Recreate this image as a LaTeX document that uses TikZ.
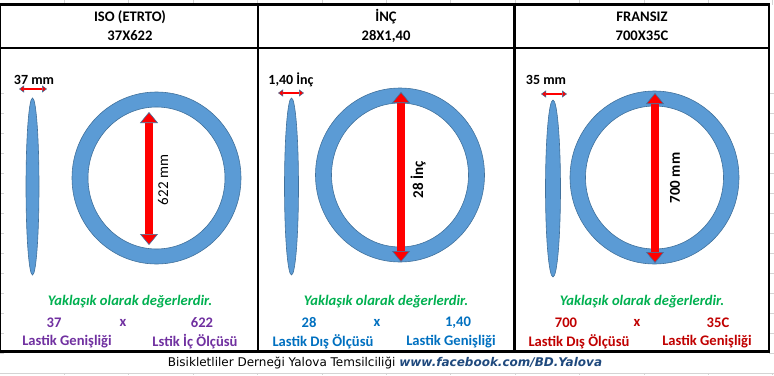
\documentclass[tikz,border=0pt]{standalone}
\usepackage{fontspec}
\setmainfont{Carlito}
\newfontfamily\piedfont{DejaVu Sans}
\usetikzlibrary{arrows.meta}
\definecolor{bleupneu}{RGB}{91,155,213}
\definecolor{bordpneu}{RGB}{65,113,156}
\definecolor{vertnote}{RGB}{0,176,80}
\definecolor{isoviolet}{RGB}{112,48,160}
\definecolor{incbleu}{RGB}{0,112,192}
\definecolor{frrouge}{RGB}{192,0,0}
\definecolor{lien}{RGB}{31,73,125}
\definecolor{grille}{RGB}{212,212,212}
\begin{document}
\begin{tikzpicture}[x=1pt, y=-1pt]
			\tikzset{cadre/.style={draw=black, line width=2.7pt},
				trait/.style={draw=grille, line width=0.8pt},
				titre/.style={font=\fontsize{14.6}{16}\selectfont\bfseries},
				valeur/.style={font=\fontsize{14.6}{16}\selectfont\bfseries},
				note/.style={font=\fontsize{14.6}{16}\selectfont\bfseries\itshape, text=vertnote},
				cote/.style={font=\fontsize{14}{16}\selectfont\bfseries, inner sep=1pt},
				pneu/.style={fill=bleupneu, draw=bordpneu, line width=0.6pt},
				fleche/.style={draw=red, line width=8pt,
					{Triangle[width=18pt, length=11pt, line width=0.6pt, color=bordpneu, fill=red]}-{Triangle[width=18pt, length=11pt, line width=0.6pt, color=bordpneu, fill=red]}},
				petitefleche/.style={draw=red, line width=2.8pt,
					{Triangle[width=7pt, length=5pt, line width=0.5pt, color=bordpneu, fill=red]}-{Triangle[width=7pt, length=5pt, line width=0.5pt, color=bordpneu, fill=red]}}};

			\useasboundingbox (0,0) rectangle (774,375);

			% grille excel
			\foreach \x in {64.4,128.8,...,773} {
				\draw[trait] (\x,0) -- (\x,4.5);
				\draw[trait] (\x,373) -- (\x,375);
			}
			\draw[trait] (0,373) -- (774,373);
			\foreach \y in {93,113,...,353} {
				\draw[trait] (0,\y) -- (4,\y);
				\draw[trait] (769,\y) -- (774,\y);
			}

			% tableau
			\draw[cadre] (0,4.5) rectangle (769,351.3);
			\draw[cadre] (0,48) -- (769,48);
			\draw[cadre] (258,4.5) -- (258,351.3);
			\draw[cadre] (514.7,4.5) -- (514.7,351.3);

			\node[titre] (t1) at (130,17) {ISO (ETRTO)};
			\node[titre] (s1) at (130,36) {37X622};
			\node[titre] (t2) at (386,17) {İNÇ};
			\node[titre] (s2) at (386,36) {28X1,40};
			\node[titre] (t3) at (642,17) {FRANSIZ};
			\node[titre] (s3) at (642,36) {700X35C};

			% ISO
			\draw[pneu] (32.5,186.5) ellipse (6.5 and 88.5);
			\draw[pneu, even odd rule] (156.5,178) ellipse (84.5 and 86) (156.5,178) ellipse (68.5 and 71);
			\coordinate (g1) at (19,89);
			\coordinate (d1) at (47,89);
			\coordinate (h1) at (149,112);
			\coordinate (b1) at (149,245);
			\draw[petitefleche] (g1) -- (d1);
			\draw[fleche] (h1) -- (b1);
			\node[cote] (l1) at (34,80) {37 mm};
			\node[font=\fontsize{15}{16}\selectfont, rotate=90] (m1) at (163,180) {622 mm};

			% INC
			\draw[pneu] (291.5,186.5) ellipse (7 and 88.5);
			\draw[pneu, even odd rule] (400,175) ellipse (84.5 and 87) (400,175) ellipse (68.5 and 72);
			\coordinate (g2) at (278,93);
			\coordinate (d2) at (304,93);
			\coordinate (h2) at (401,92);
			\coordinate (b2) at (401,262);
			\draw[petitefleche] (g2) -- (d2);
			\draw[fleche] (h2) -- (b2);
			\node[cote] (l2) at (291,80) {1,40 İnç};
			\node[font=\fontsize{15}{16}\selectfont\bfseries, rotate=90] (m2) at (418,180) {28 İnç};

			% FRANSIZ
			\draw[pneu] (553,188.5) ellipse (7.5 and 88.5);
			\draw[pneu, even odd rule] (654.5,177.5) ellipse (84.5 and 86.5) (654.5,177.5) ellipse (69 and 71.5);
			\coordinate (g3) at (541,94);
			\coordinate (d3) at (567,94);
			\coordinate (h3) at (655,93);
			\coordinate (b3) at (655,263);
			\draw[petitefleche] (g3) -- (d3);
			\draw[fleche] (h3) -- (b3);
			\node[cote] (l3) at (546,80) {35 mm};
			\node[font=\fontsize{15}{16}\selectfont\bfseries, rotate=90] (m3) at (675,178) {700 mm};

			% valeurs
			\node[note] (n1) at (130,302) {Yaklaşık olarak değerlerdir.};
			\node[valeur, text=isoviolet] (a1) at (54,323) {37};
			\node[valeur, text=isoviolet] (x1) at (123,323) {x};
			\node[valeur, text=isoviolet] (c1) at (202,323) {622};
			\node[valeur, text=isoviolet] (e1) at (67,342) {Lastik Genişliği};
			\node[valeur, text=isoviolet] (f1) at (195,342) {Lstik İç Ölçüsü};

			\node[note] (n2) at (386,302) {Yaklaşık olarak değerlerdir.};
			\node[valeur, text=incbleu] (a2) at (309,323) {28};
			\node[valeur, text=incbleu] (x2) at (377,323) {x};
			\node[valeur, text=incbleu] (c2) at (458,323) {1,40};
			\node[valeur, text=incbleu] (e2) at (323,342) {Lastik Dış Ölçüsü};
			\node[valeur, text=incbleu] (f2) at (451,342) {Lastik Genişliği};

			\node[note] (n3) at (642,302) {Yaklaşık olarak değerlerdir.};
			\node[valeur, text=frrouge] (a3) at (566,323) {700};
			\node[valeur, text=frrouge] (x3) at (637,323) {x};
			\node[valeur, text=frrouge] (c3) at (718,323) {35C};
			\node[valeur, text=frrouge] (e3) at (579,342) {Lastik Dış Ölçüsü};
			\node[valeur, text=frrouge] (f3) at (707,342) {Lastik Genişliği};

			\node[font=\piedfont\fontsize{12}{14}\selectfont] (pied) at (385,363)
				{Bisikletliler Derneği Yalova Temsilciliği \textcolor{lien}{\bfseries\itshape www.facebook.com/BD.Yalova}};

		\end{tikzpicture}
\end{document}
